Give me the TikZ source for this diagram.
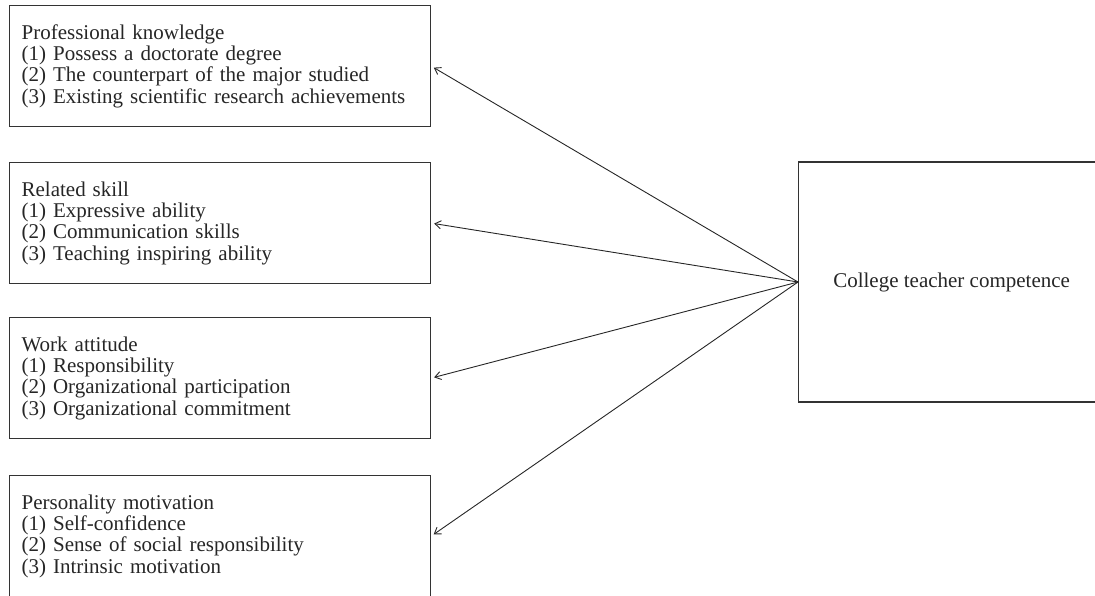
\documentclass[tikz,border=0pt]{standalone}
\usepackage{fontspec}
\setmainfont{Liberation Serif}
\usetikzlibrary{arrows.meta}

\begin{document}
\begin{tikzpicture}[x=1pt, y=-1pt,
    factor/.style={draw=black!80, line width=1.2pt, rectangle, anchor=north west,
        minimum width=421pt, minimum height=121pt, text width=397pt, inner xsep=12pt,
        align=left, font=\fontsize{21}{21.4}\selectfont, text=black!85},
    result/.style={draw=black!80, line width=1.2pt, rectangle, anchor=west,
        minimum width=306pt, minimum height=240pt,
        font=\fontsize{21}{21.4}\selectfont, text=black!85},
    link/.style={draw=black!85, line width=0.9pt, shorten >=3pt,
        -{Straight Barb[length=6pt,width=8pt]}}]
    \useasboundingbox (0,0) rectangle (1095,595);

    \node[factor] (know) at (9,5) {Professional knowledge\\(1) Possess a doctorate degree\\(2) The counterpart of the major studied\\(3) Existing scientific research achievements};
    \node[factor] (skill) at (9,162) {Related skill\\(1) Expressive ability\\(2) Communication skills\\(3) Teaching inspiring ability};
    \node[factor] (attitude) at (9,317) {Work attitude\\(1) Responsibility\\(2) Organizational participation\\(3) Organizational commitment};
    \node[factor] (motive) at (9,475) {Personality motivation\\(1) Self-confidence\\(2) Sense of social responsibility\\(3) Intrinsic motivation};

    \node[result] (compet) at (798,282) {College teacher competence};

    \draw[link] (compet.west) -- (know.east);
    \draw[link] (compet.west) -- (skill.east);
    \draw[link] (compet.west) -- (attitude.east);
    \draw[link] (compet.west) -- (motive.east);
\end{tikzpicture}
\end{document}
